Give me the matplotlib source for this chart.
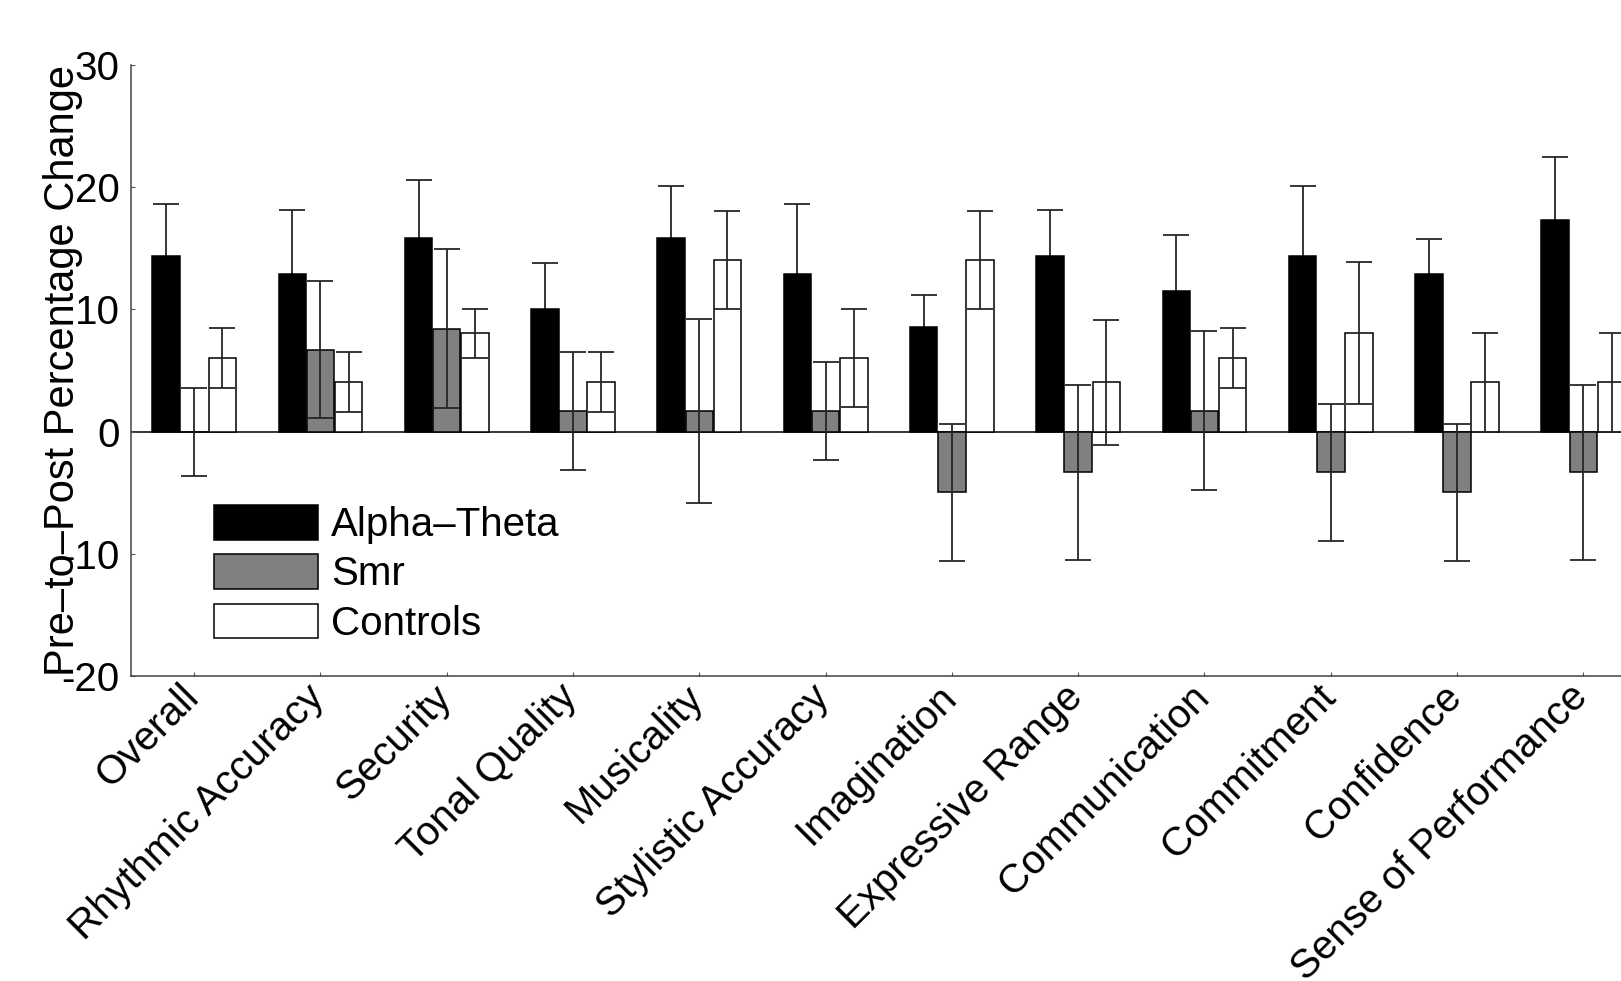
import numpy as np
import matplotlib
matplotlib.use("Agg")
import matplotlib.pyplot as plt
import matplotlib.transforms as mtransforms

plt.rcParams['font.family'] = ['Liberation Sans', 'DejaVu Sans']
plt.rcParams['axes.unicode_minus'] = False

categories = ['Overall', 'Rhythmic Accuracy', 'Security', 'Tonal Quality',
              'Musicality', 'Stylistic Accuracy', 'Imagination',
              'Expressive Range', 'Communication', 'Commitment',
              'Confidence', 'Sense of Performance']

# mean pre-to-post change and error (half-length of error bar)
alpha_theta = [14.4, 12.9, 15.8, 10.0, 15.8, 12.9, 8.6, 14.4, 11.5, 14.4, 12.9, 17.3]
alpha_theta_err = [4.2, 5.2, 4.8, 3.8, 4.3, 5.7, 2.6, 3.7, 4.55, 5.7, 2.85, 5.2]
smr = [0.0, 6.7, 8.4, 1.7, 1.7, 1.7, -4.95, -3.3, 1.7, -3.3, -4.95, -3.3]
smr_err = [3.6, 5.6, 6.5, 4.8, 7.5, 4.0, 5.6, 7.15, 6.5, 5.6, 5.6, 7.15]
controls = [6.05, 4.05, 8.05, 4.05, 14.05, 6.05, 14.05, 4.05, 6.05, 8.05, 4.05, 4.05]
controls_err = [2.45, 2.45, 2.0, 2.45, 4.0, 4.0, 4.0, 5.1, 2.45, 5.8, 4.05, 4.05]

series = [('Alpha–Theta', alpha_theta, alpha_theta_err, 'black'),
          ('Smr', smr, smr_err, '#808080'),
          ('Controls', controls, controls_err, 'white')]

fs = 29
x = np.arange(1, len(categories) + 1)
width = 0.218
offsets = [-0.223, 0.0, 0.223]

fig = plt.figure(figsize=(16.21, 9.81), dpi=100)
# axes runs past the right edge of the figure, as in the original crop
ax = fig.add_axes([131 / 1621, 1 - 676.3 / 981, 1515.5 / 1621, 611.5 / 981])

ax.axhline(0, color='black', lw=1.1, zorder=1)
for (name, vals, errs, col), off in zip(series, offsets):
    ax.bar(x + off, vals, width, color=col, edgecolor='black', linewidth=1.1,
           label=name, zorder=2)
    # black bars hide their own lower whisker
    ez = 1.5 if col == 'black' else 3
    ax.errorbar(x + off, vals, yerr=errs, fmt='none', ecolor='#262626',
                elinewidth=1.3, capsize=9.6, capthick=1.3, zorder=ez)

ax.set_xlim(0.5, 12.5)
ax.set_ylim(-20, 30)
ax.set_yticks([-20, -10, 0, 10, 20, 30])
ax.set_xticks(x)
ax.set_xticklabels(categories, rotation=45, ha='right', va='top',
                   rotation_mode='anchor')
ax.tick_params(axis='both', direction='in', length=3, width=0.8,
               color='#555555', labelsize=fs)
ax.tick_params(axis='y', pad=8.2)
ax.tick_params(axis='x', pad=4)

shift = mtransforms.ScaledTranslation(-15 / 100, 4 / 100, fig.dpi_scale_trans)
for lbl in ax.get_xticklabels():
    lbl.set_transform(lbl.get_transform() + shift)

for side in ['top', 'right']:
    ax.spines[side].set_visible(False)
for side in ['left', 'bottom']:
    ax.spines[side].set_color('#444444')
    ax.spines[side].set_linewidth(1.1)

ax.set_ylabel('Pre–to–Post Percentage Change', fontsize=30)
ax.yaxis.set_label_coords(-0.0315, 0.5)

ax.legend(loc='upper left', bbox_to_anchor=(83 / 1515.5, 1 - (505 - 64.8) / 611.5),
          frameon=False, fontsize=fs, handlelength=2.58, handleheight=0.95,
          handletextpad=0.33, labelspacing=0.25, borderpad=0, borderaxespad=0)

fig.savefig('out.png', dpi=100)
